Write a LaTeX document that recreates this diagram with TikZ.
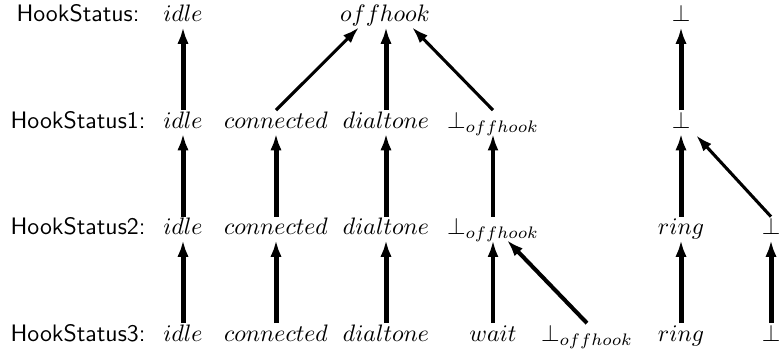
\documentclass[tikz,border=0pt]{standalone}
\usetikzlibrary{arrows.meta,calc}
\begin{document}
\begin{tikzpicture}[x=0.42pt,y=-0.42pt,
  st/.style={anchor=base,inner xsep=1pt,inner ysep=2pt,text height=5.5pt,text depth=0pt},
  lab/.style={anchor=base,font=\sffamily},
  thickarr/.style={line width=2.1pt,-{Latex[length=7pt,width=4.8pt]}},
  midarr/.style={line width=1.5pt,-{Latex[length=7pt,width=4.6pt]}},
  diagarr/.style={line width=1.3pt,-{Latex[length=7pt,width=4.6pt]}},
  diagthick/.style={line width=1.7pt,-{Latex[length=7pt,width=4.8pt]}}]
\useasboundingbox (0,0) rectangle (781,354);
% labels
\node[lab] (l0) at (78,22) {HookStatus:};
\node[lab] (l1) at (78,128.5) {HookStatus1:};
\node[lab] (l2) at (78,235) {HookStatus2:};
\node[lab] (l3) at (78,341.5) {HookStatus3:};
% row 0
\node[st] (i0) at (183,22) {$idle$};
\node[st] (off0) at (385,22) {$offhook$};
\node[st] (t0) at (681,22) {$\bot$};
% row 1
\node[st] (i1) at (183,128.5) {$idle$};
\node[st] (c1) at (276,128.5) {$connected$};
\node[st] (d1) at (386,128.5) {$dialtone$};
\node[st] (b1) at (493,128.5) {$\bot_{offhook}$};
\node[st] (t1) at (681,128.5) {$\bot$};
% row 2
\node[st] (i2) at (183,235) {$idle$};
\node[st] (c2) at (276,235) {$connected$};
\node[st] (d2) at (386,235) {$dialtone$};
\node[st] (b2) at (493,235) {$\bot_{offhook}$};
\node[st] (r2) at (681,235) {$ring$};
\node[st] (e2) at (771,235) {$\bot$};
% row 3
\node[st] (i3) at (183,341.5) {$idle$};
\node[st] (c3) at (276,341.5) {$connected$};
\node[st] (d3) at (386,341.5) {$dialtone$};
\node[st] (w3) at (493,341.5) {$wait$};
\node[st] (bo3) at (587,341.5) {$\bot_{offhook}$};
\node[st] (r3) at (681,341.5) {$ring$};
\node[st] (e3) at (771,341.5) {$\bot$};
% vertical arrows
\draw[thickarr] (i1.north) -- (i0.south);
\draw[thickarr] (d1.north) -- (d1.north |- off0.south);
\draw[thickarr] (t1.north) -- (t0.south);
\draw[thickarr] (i2.north) -- (i1.south);
\draw[thickarr] (c2.north) -- (c1.south);
\draw[thickarr] (d2.north) -- (d1.south);
\draw[midarr] (b2.north) -- (b1.south);
\draw[thickarr] (r2.north) -- (t1.south);
\draw[thickarr] (i3.north) -- (i2.south);
\draw[thickarr] (c3.north) -- (c2.south);
\draw[thickarr] (d3.north) -- (d2.south);
\draw[midarr] (w3.north) -- (b2.south);
\draw[thickarr] (r3.north) -- (r2.south);
\draw[thickarr] (e3.north) -- (e2.south);
% diagonal arrows
\draw[diagarr] (c1.north) -- ($(off0.south)+(-26,0)$);
\draw[diagarr] (b1.north) -- ($(off0.south)+(27,0)$);
\draw[diagarr] (e2.north) -- ($(t1.south)+(15,1.5)$);
\draw[diagthick] (bo3.north) -- ($(b2.south)+(14,0)$);
\end{tikzpicture}
\end{document}
